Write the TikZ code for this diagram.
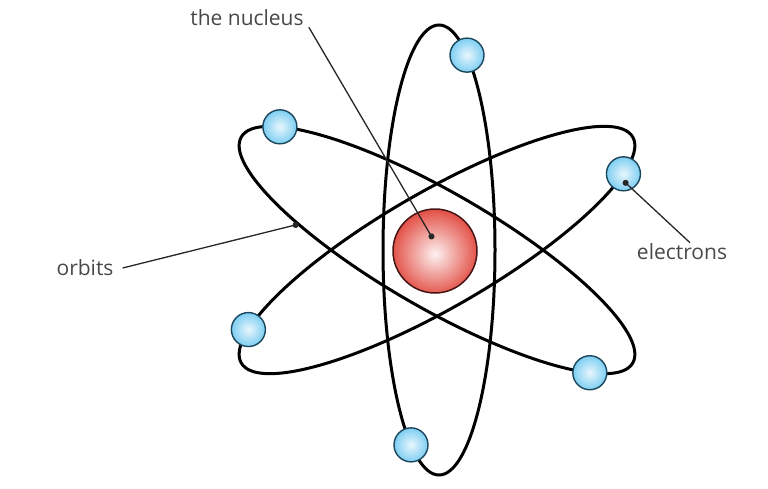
\documentclass[tikz,border=0pt]{standalone}
\usepackage{fontspec}
\setmainfont{Open Sans}
\usetikzlibrary{positioning}
\usetikzlibrary{arrows.meta}

\definecolor{nucred}{RGB}{226,78,68}
\definecolor{nucrim}{RGB}{70,22,20}
\definecolor{elblue}{RGB}{104,198,240}
\definecolor{elrim}{RGB}{28,70,92}
\definecolor{textgray}{RGB}{72,72,72}

\pgfdeclareradialshading{nucball}{\pgfpoint{0bp}{-2bp}}{color(0bp)=(white!92!nucred); color(26bp)=(nucred); color(50bp)=(nucred!88!black)}
\pgfdeclareradialshading{elball}{\pgfpoint{0bp}{0bp}}{color(0bp)=(white!85!elblue); color(30bp)=(elblue); color(50bp)=(elblue!92!black)}

\begin{document}
\begin{tikzpicture}[x=1pt, y=-1pt,
    orbit/.style={draw, line width=3pt},
    electron/.style={circle, draw=elrim, line width=1.4pt, minimum size=34pt, inner sep=0pt, shading=elball},
    nucleus/.style={circle, draw=nucrim, line width=1.5pt, minimum size=84pt, inner sep=0pt, shading=nucball},
    note/.style={text=textgray, font=\fontsize{21}{25}\selectfont, inner sep=1pt},
    pointer/.style={draw=black!85, line width=1.3pt, -{Circle[length=6pt]}}]

    \useasboundingbox (0,0) rectangle (768,488);

    % orbits
    \begin{scope}[shift={(439,250)}]
        \draw[orbit] (0,0) ellipse [x radius=56pt, y radius=225pt];
        \coordinate (p3) at (60:56pt and 225pt);
        \coordinate (p6) at (-120:56pt and 225pt);
    \end{scope}
    \begin{scope}[shift={(437,250)}, rotate=-30]
        \draw[orbit] (0,0) ellipse [x radius=226pt, y radius=58pt];
        \coordinate (p1) at (151:226pt and 58pt);
        \coordinate (p5) at (-31:226pt and 58pt);
        \coordinate (po) at (-126:226pt and 58pt);
    \end{scope}
    \begin{scope}[shift={(437,250)}, rotate=30]
        \draw[orbit] (0,0) ellipse [x radius=226pt, y radius=58pt];
        \coordinate (p2) at (154:226pt and 58pt);
        \coordinate (p4) at (-28:226pt and 58pt);
    \end{scope}

    % nucleus and electrons
    \node[nucleus] (n) at (435,251) {};
    \node[electron] (e1) at (p1) {};
    \node[electron] (e2) at (p2) {};
    \node[electron] (e3) at (p3) {};
    \node[electron] (e4) at (p4) {};
    \node[electron] (e5) at (p5) {};
    \node[electron] (e6) at (p6) {};

    % labels
    \node[note] (tn) at (247,18) {the nucleus};
    \node[note] (te) at (682,252) {electrons};
    \node[note] (to) at (85,268) {orbits};

    \coordinate (nd) at ([shift={(-2,-12)}]n.center);
    \coordinate (ed) at ([yshift=-7pt]e4.center);
    \draw[pointer] ([xshift=4pt]tn.south east) -- (nd);
    \draw[pointer] ([xshift=8pt]te.north) -- (ed);
    \draw[pointer] ([xshift=8pt]to.east) -- (po);
\end{tikzpicture}
\end{document}
